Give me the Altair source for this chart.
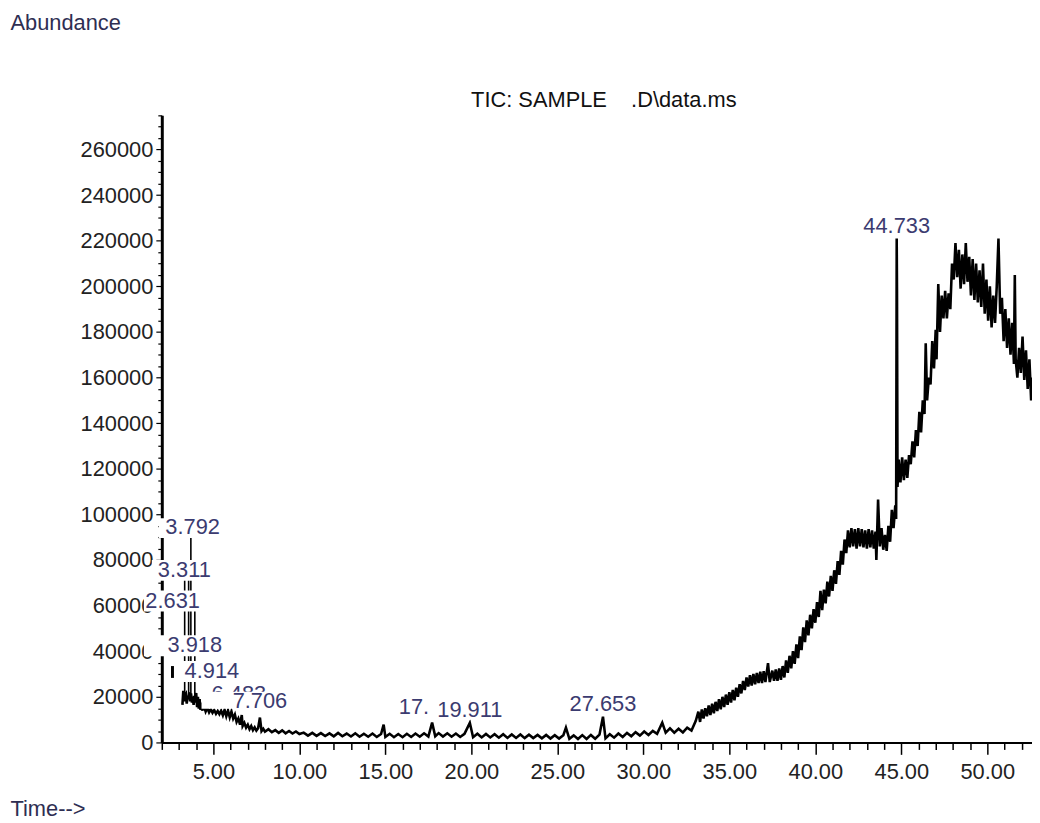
import altair as alt
import pandas as pd

# ---------------- data ----------------
# early region (time min, abundance)
seg_early = [
    (3.20, 16500), (3.25, 22600), (3.30, 18000), (3.35, 21000), (3.40, 21500),
    (3.45, 17000), (3.50, 20500), (3.55, 19000), (3.60, 22000), (3.65, 18000),
    (3.70, 21500), (3.75, 17500), (3.80, 20000), (3.85, 16500), (3.88, 20500),
    (3.92, 17500), (4.00, 21700), (4.05, 15500), (4.10, 20000), (4.15, 14800),
    (4.20, 19000), (4.25, 14300), (4.30, 17500), (4.35, 14000), (4.45, 16000),
    (4.55, 13500), (4.65, 15200), (4.75, 13200), (4.85, 14600), (4.95, 13000),
    (5.05, 14200), (5.15, 12600), (5.25, 13800), (5.35, 12400), (5.45, 13900),
    (5.55, 11900), (5.65, 14300), (5.75, 11500), (5.85, 14000), (5.95, 11000),
    (6.05, 13600), (6.15, 10500), (6.25, 12200), (6.35, 9000), (6.45, 10500),
    (6.55, 7800), (6.65, 12000), (6.70, 7200), (6.80, 8600), (6.90, 6500),
    (7.00, 7800), (7.10, 5800), (7.20, 7200), (7.30, 5400), (7.40, 6600),
    (7.50, 5200), (7.60, 6200), (7.706, 10900), (7.80, 5000), (7.90, 6000),
    (8.00, 4700), (8.20, 5800), (8.40, 4500), (8.60, 5400), (8.80, 4200),
    (9.00, 5300), (9.20, 4000), (9.40, 5000), (9.60, 3900), (9.80, 4800),
    (10.00, 3700),
]
# flat baseline region
seg_base = [
    (10.25, 4300), (10.5, 3000), (10.75, 4200), (11.0, 2900), (11.25, 4100),
    (11.5, 2800), (11.75, 4000), (12.0, 2700), (12.25, 4200), (12.5, 2700),
    (12.75, 3900), (13.0, 2600), (13.25, 4000), (13.5, 2500), (13.75, 3800),
    (14.0, 2500), (14.25, 3900), (14.5, 2400), (14.75, 3700), (14.9, 7800),
    (15.0, 2400), (15.25, 3800), (15.5, 2300), (15.75, 3700), (16.0, 2300),
    (16.25, 3800), (16.5, 2400), (16.75, 3900), (17.0, 2500), (17.25, 4000),
    (17.5, 2600), (17.718, 8700), (17.9, 2700), (18.1, 4100), (18.35, 2600),
    (18.6, 4000), (18.85, 2500), (19.1, 3900), (19.35, 2400), (19.6, 3800),
    (19.911, 8600), (20.1, 2300), (20.35, 3800), (20.6, 2200), (20.85, 3700),
    (21.1, 2200), (21.35, 3600), (21.6, 2100), (21.85, 3600), (22.1, 2000),
    (22.35, 3500), (22.6, 2000), (22.85, 3500), (23.1, 1900), (23.35, 3400),
    (23.6, 1900), (23.85, 3300), (24.1, 1800), (24.35, 3300), (24.6, 1700),
    (24.85, 3200), (25.1, 1700), (25.35, 3200), (25.5, 6500), (25.7, 1600),
    (25.95, 3100), (26.2, 1500), (26.45, 3200), (26.7, 1500), (26.95, 3300),
    (27.2, 1600), (27.45, 3400), (27.653, 11300), (27.8, 1800), (28.05, 3600),
    (28.3, 2100), (28.55, 3900), (28.8, 2400), (29.05, 4200), (29.3, 2700),
    (29.55, 4500), (29.8, 3000), (30.05, 4800), (30.3, 3300), (30.55, 5100),
    (30.8, 3800), (31.1, 8700), (31.3, 4300), (31.55, 6200), (31.8, 4300),
    (32.05, 6000), (32.3, 4400), (32.55, 6500), (32.8, 5200), (33.05, 9500),
]
# rising region
seg_rise = [
    (33.2, 13500), (33.3, 9000), (33.4, 14500), (33.5, 10500), (33.6, 15000),
    (33.7, 11500), (33.8, 16200), (33.9, 12000), (34.0, 17000), (34.1, 12800),
    (34.2, 17800), (34.3, 13800), (34.4, 19000), (34.5, 14500), (34.6, 20000),
    (34.7, 15500), (34.8, 21000), (34.9, 16500), (35.0, 22000), (35.1, 17500),
    (35.2, 23000), (35.3, 18500), (35.4, 24000), (35.5, 20000), (35.6, 25500),
    (35.7, 21500), (35.8, 27000), (35.9, 23000), (36.0, 28500), (36.1, 24500),
    (36.2, 29500), (36.3, 25000), (36.4, 30000), (36.5, 25500), (36.6, 30500),
    (36.7, 26000), (36.8, 31000), (36.9, 26000), (37.0, 31200), (37.1, 26500),
    (37.25, 34800), (37.35, 26500), (37.5, 31500), (37.6, 27000), (37.7, 32000),
    (37.8, 27000), (37.9, 32500), (38.0, 27500), (38.1, 33500), (38.2, 28500),
    (38.3, 36000), (38.4, 30500), (38.5, 38000), (38.6, 32500), (38.7, 40000),
    (38.8, 34500), (38.9, 43000), (39.0, 37000), (39.1, 46500), (39.2, 40500),
    (39.3, 50500), (39.4, 44000), (39.5, 53500), (39.6, 47000), (39.7, 56000),
    (39.8, 50000), (39.9, 58500), (40.0, 52500), (40.1, 61500), (40.2, 55000),
    (40.3, 66500), (40.4, 58000), (40.5, 67000), (40.6, 61000), (40.7, 70500),
    (40.8, 64000), (40.9, 73000), (41.0, 66500), (41.1, 75500), (41.2, 69500),
    (41.3, 79500), (41.4, 73500), (41.5, 84000), (41.6, 78000), (41.7, 89000),
    (41.8, 83000), (41.9, 93000), (42.0, 85500), (42.1, 94000), (42.2, 86000),
    (42.3, 93500), (42.4, 85000), (42.5, 94000), (42.6, 86000), (42.7, 93500),
    (42.8, 85500), (42.9, 93000), (43.0, 85000), (43.1, 93500), (43.2, 85500),
    (43.3, 93000), (43.4, 85000), (43.5, 92500), (43.55, 80000), (43.65, 106500),
    (43.75, 86000), (43.85, 94000), (43.95, 84500), (44.05, 91000), (44.15, 84000),
    (44.25, 95000), (44.35, 88000), (44.45, 102000), (44.55, 94000), (44.65, 104000),
    (44.70, 98000),
]
# main peak and hump
seg_top = [
    (44.733, 221000), (44.75, 198000), (44.78, 112000), (44.85, 124000),
    (44.95, 114000), (45.05, 125000), (45.15, 115000), (45.25, 124000),
    (45.35, 116000), (45.45, 126000), (45.55, 122000), (45.65, 132000),
    (45.75, 125000), (45.85, 137000), (45.95, 130000), (46.05, 145000),
    (46.15, 136000), (46.25, 150000), (46.35, 144000), (46.42, 175000),
    (46.5, 150000), (46.6, 160000), (46.7, 157000), (46.8, 176000),
    (46.9, 164000), (47.0, 181000), (47.05, 168000), (47.15, 201000),
    (47.25, 180000), (47.35, 196000), (47.45, 186000), (47.55, 198000),
    (47.65, 186000), (47.75, 197000), (47.85, 190000), (47.95, 210000),
    (48.05, 203000), (48.15, 219000), (48.25, 204000), (48.35, 216000),
    (48.45, 199000), (48.55, 214000), (48.65, 201000), (48.75, 219000),
    (48.85, 202000), (48.95, 213000), (49.05, 196000), (49.15, 212000),
    (49.25, 194000), (49.35, 210000), (49.45, 193000), (49.55, 207000),
    (49.65, 191000), (49.75, 210000), (49.85, 188000), (49.95, 203000),
    (50.05, 185000), (50.15, 200000), (50.25, 182000), (50.35, 196000),
    (50.45, 184000), (50.55, 200000), (50.65, 221000), (50.75, 188000),
    (50.85, 195000), (50.95, 176000), (51.05, 190000), (51.15, 173000),
    (51.25, 186000), (51.35, 170000), (51.45, 184000), (51.55, 166000),
    (51.6, 205000), (51.65, 168000), (51.75, 160000), (51.85, 173000),
    (51.95, 162000), (52.05, 178000), (52.15, 159000), (52.25, 172000),
    (52.35, 155000), (52.45, 168000), (52.55, 150000), (52.6, 160000),
]

# narrow early peaks, mostly hidden behind label boxes (time, base, apex)
narrow_peaks = [
    (2.62, 28300, 33500),
    (3.33, 21000, 78000),
    (3.56, 20000, 76000),
    (3.69, 21000, 96000),
    (3.92, 19000, 60000),
]
narrow_width = [3, 1.6, 1.6, 1.6, 1.6]

# peak labels: (text, time, abundance at label centre, drawn behind boxes?)
peak_labels = [
    ("6.483", 6.483, 21300, True),
    ("17.718", 17.718, 15700, True),
    ("3.792", 3.792, 94400, False),
    ("3.311", 3.311, 75700, False),
    ("2.631", 2.631, 62200, False),
    ("3.918", 3.918, 42600, False),
    ("4.914", 4.914, 31300, False),
    ("7.706", 7.706, 18300, False),
    ("19.911", 19.911, 14400, False),
    ("27.653", 27.653, 17000, False),
    ("44.733", 44.733, 226600, False),
]
# white label boxes (t0, t1, v0, v1)
label_boxes = [
    (1.83, 5.64, 89600, 98300),
    (1.42, 5.00, 70900, 80000),
    (0.96, 4.25, 57400, 66600),
    (0.96, 5.58, 37800, 47000),
    (3.15, 6.62, 26500, 35700),
    (4.31, 9.67, 14800, 22200),
    (17.52, 21.79, 10000, 19600),
]

x_ticks = list(range(2, 53))
y_ticks = list(range(0, 275001, 5000))

# ---------------- build ----------------
trace = seg_early + seg_base + seg_rise + seg_top
df = pd.DataFrame(trace, columns=["t", "v"])
df["i"] = range(len(df))
df_frag = pd.DataFrame(narrow_peaks, columns=["t", "lo", "hi"])
df_frag["w"] = narrow_width
df_lab = pd.DataFrame(peak_labels, columns=["txt", "t", "v", "back"])
df_box = pd.DataFrame(label_boxes, columns=["t0", "t1", "v0", "v1"])

FONT = "Liberation Sans"
xs = alt.Scale(domain=[2.0, 52.6], nice=False, zero=False)
ys = alt.Scale(domain=[0, 275000], nice=False, zero=True)

x_axis = alt.Axis(
    values=x_ticks,
    labelExpr="datum.value % 5 === 0 ? format(datum.value, '.2f') : ''",
    tickSize={"condition": {"test": "datum.value % 5 === 0", "value": 12}, "value": 7},
    tickColor="black", tickWidth=1.5, domainColor="black", domainWidth=2,
    labelFont=FONT, labelFontSize=22, labelColor="#222222", labelPadding=7,
    labelOverlap=False, labelFlush=False, grid=False,
    title="Time-->", titleFont=FONT, titleFontSize=22, titleFontWeight="normal",
    titleColor="#2e2e52", titleAlign="left", titleBaseline="middle",
    titleX=-153, titleY=67, titleAngle=0,
)
y_axis = alt.Axis(
    values=y_ticks,
    labelExpr="datum.value % 20000 === 0 ? format(datum.value, 'd') : ''",
    tickSize={"condition": {"test": "datum.value % 20000 === 0", "value": 6}, "value": 4},
    tickColor="black", tickWidth=1.2, domainColor="black", domainWidth=3,
    labelFont=FONT, labelFontSize=22, labelColor="#222222", labelPadding=3,
    labelOverlap=False, labelFlush=False, grid=False, labelBaseline="middle",
    title="Abundance", titleFont=FONT, titleFontSize=22, titleFontWeight="normal",
    titleColor="#2e2e52", titleAlign="left", titleBaseline="middle",
    titleX=-153, titleY=-94, titleAngle=0,
)

line = alt.Chart(df).mark_line(color="black", strokeWidth=2.6, clip=True).encode(
    x=alt.X("t:Q", scale=xs, axis=x_axis),
    y=alt.Y("v:Q", scale=ys, axis=y_axis),
    order="i:Q",
)
frag = alt.Chart(df_frag).mark_rule(color="black").encode(
    x=alt.X("t:Q", scale=xs, axis=x_axis),
    y=alt.Y("lo:Q", scale=ys, axis=y_axis),
    y2="hi:Q",
    strokeWidth=alt.StrokeWidth("w:Q", scale=None, legend=None),
)
text_style = dict(font=FONT, fontSize=22, color="#3b3b70", align="center", baseline="middle")
back_lab = alt.Chart(df_lab[df_lab.back]).mark_text(**text_style).encode(
    x=alt.X("t:Q", scale=xs, axis=x_axis),
    y=alt.Y("v:Q", scale=ys, axis=y_axis),
    text="txt:N",
)
boxes = alt.Chart(df_box).mark_rect(color="white", opacity=1).encode(
    x=alt.X("t0:Q", scale=xs, axis=x_axis),
    x2="t1:Q",
    y=alt.Y("v0:Q", scale=ys, axis=y_axis),
    y2="v1:Q",
)
front_lab = alt.Chart(df_lab[~df_lab.back]).mark_text(**text_style).encode(
    x=alt.X("t:Q", scale=xs, axis=x_axis),
    y=alt.Y("v:Q", scale=ys, axis=y_axis),
    text="txt:N",
)

chart = alt.layer(line, frag, back_lab, boxes, front_lab).properties(
    width=877,
    height=632,
    autosize=alt.AutoSizeParams(type="none"),
    padding={"left": 155, "top": 105, "right": 0, "bottom": 78},
    title=alt.TitleParams(
        "TIC: SAMPLE\u00a0\u00a0\u00a0\u00a0.D\\data.ms",
        font=FONT, fontSize=22, fontWeight="normal", color="#111111",
        anchor="middle", baseline="middle", frame="group", offset=-112, dx=7,
    ),
).configure(background="white").configure_view(stroke=None)

chart.save("out.html", embed_options={"renderer": "svg", "actions": False})
